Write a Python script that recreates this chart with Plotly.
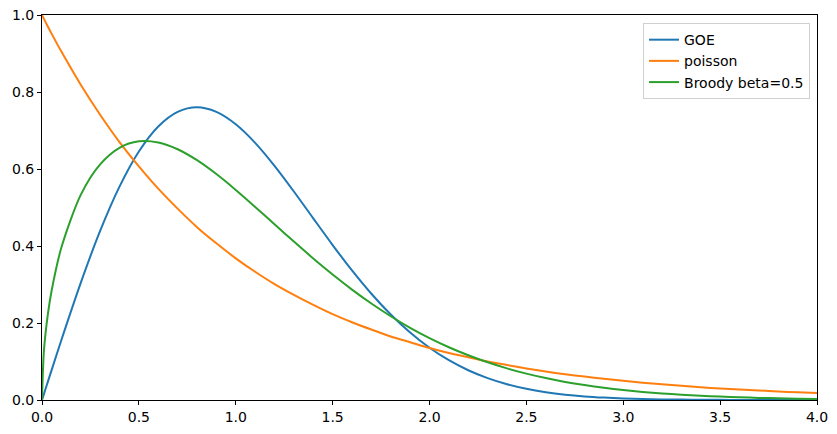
import plotly.graph_objects as go

# level spacing s
s = [0, 0.01, 0.03, 0.05, 0.1, 0.2, 0.3, 0.4, 0.5, 0.6, 0.7, 0.8, 0.9, 1.0,
     1.1, 1.2, 1.3, 1.4, 1.5, 1.6, 1.7, 1.8, 1.9, 2.0, 2.1, 2.2, 2.3, 2.4,
     2.5, 2.6, 2.7, 2.8, 2.9, 3.0, 3.1, 3.2, 3.3, 3.4, 3.5, 3.6, 3.7, 3.8,
     3.9, 4.0]

goe = [0, 0.0157, 0.0471, 0.0784, 0.1559, 0.3044, 0.4391, 0.5541, 0.6454,
       0.7104, 0.7483, 0.7602, 0.7483, 0.7162, 0.6680, 0.6083, 0.5416,
       0.4718, 0.4025, 0.3365, 0.2759, 0.2220, 0.1753, 0.1358, 0.1033,
       0.0772, 0.0567, 0.0409, 0.0290, 0.0202, 0.0138, 0.0093, 0.0062,
       0.0040, 0.0026, 0.0016, 0.0010, 0.0006, 0.0004, 0.0002, 0.0001,
       0.0001, 0.0, 0.0]

poisson = [1.0, 0.990, 0.970, 0.951, 0.905, 0.819, 0.741, 0.670, 0.607,
           0.549, 0.497, 0.449, 0.407, 0.368, 0.333, 0.301, 0.273, 0.247,
           0.223, 0.202, 0.183, 0.165, 0.150, 0.135, 0.122, 0.111, 0.100,
           0.091, 0.082, 0.074, 0.067, 0.061, 0.055, 0.050, 0.045, 0.041,
           0.037, 0.033, 0.030, 0.027, 0.025, 0.022, 0.020, 0.018]

brody = [0, 0.1285, 0.2218, 0.2849, 0.3959, 0.5329, 0.6120, 0.6550, 0.6718,
         0.6689, 0.6513, 0.6229, 0.5868, 0.5456, 0.5016, 0.4564, 0.4114,
         0.3676, 0.3259, 0.2868, 0.2506, 0.2175, 0.1876, 0.1608, 0.1371,
         0.1162, 0.0980, 0.0821, 0.0685, 0.0569, 0.0470, 0.0387, 0.0317,
         0.0258, 0.0210, 0.0170, 0.0137, 0.0110, 0.0088, 0.0070, 0.0055,
         0.0044, 0.0034, 0.0027]

x_ticks = [0.0, 0.5, 1.0, 1.5, 2.0, 2.5, 3.0, 3.5, 4.0]
y_ticks = [0.0, 0.2, 0.4, 0.6, 0.8, 1.0]

fig = go.Figure()
for name, ys, col in [("GOE", goe, "#1f77b4"),
                      ("poisson", poisson, "#ff7f0e"),
                      ("Broody beta=0.5", brody, "#2ca02c")]:
    fig.add_trace(go.Scatter(x=s, y=ys, mode="lines", name=name,
                             line=dict(color=col, width=2, shape="spline", smoothing=0.8)))

axis_style = dict(showgrid=False, zeroline=False, showline=True, linecolor="black",
                  linewidth=1, mirror=True, ticks="outside", ticklen=4,
                  tickcolor="black", tickfont=dict(size=14, color="black"),
                  automargin=False, ticklabeloverflow="allow")

fig.update_xaxes(range=[0, 4], tickvals=x_ticks,
                 ticktext=[f"{v:.1f}" for v in x_ticks], **axis_style)
fig.update_yaxes(range=[0, 1], tickvals=y_ticks,
                 ticktext=[f"{v:.1f}" for v in y_ticks], **axis_style)

# page body has an 8px margin, so the figure is shrunk to fit the window
fig.update_layout(
    width=821, height=418,
    margin=dict(l=34, r=12, t=7, b=26),
    plot_bgcolor="white", paper_bgcolor="white",
    font=dict(family="DejaVu Sans", size=14, color="black"),
    legend=dict(x=0.991, y=0.979, xanchor="right", yanchor="top",
                bgcolor="white", bordercolor="#d0d0d0", borderwidth=1,
                font=dict(size=14), tracegroupgap=0, itemwidth=30),
)

fig.write_html("out.html")
